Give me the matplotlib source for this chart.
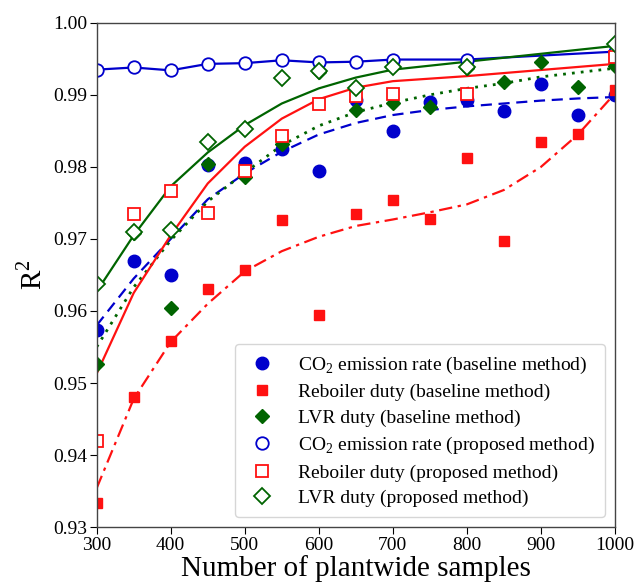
import matplotlib
matplotlib.use("Agg")
import matplotlib.pyplot as plt

plt.rcParams["font.family"] = ["Liberation Serif", "DejaVu Serif"]
plt.rcParams["mathtext.fontset"] = "custom"
plt.rcParams["mathtext.rm"] = "Liberation Serif"

BLUE, RED, GREEN = "#0000cc", "#ff1111", "#006400"

# baseline method: every 50 samples
x_base = [300, 350, 400, 450, 500, 550, 600, 650, 700, 750, 800, 850, 900, 950, 1000]
co2_base = [0.9573, 0.9669, 0.9650, 0.9803, 0.9806, 0.9825, 0.9794, 0.9893, 0.9850,
            0.9890, 0.9893, 0.9878, 0.9915, 0.9872, 0.9900]
reb_base = [0.9334, 0.9480, 0.9558, 0.9631, 0.9657, 0.9726, 0.9594, 0.9734, 0.9754,
            0.9728, 0.9813, 0.9697, 0.9835, 0.9845, 0.9907]
lvr_base = [0.9526, 0.9708, 0.9604, 0.9804, 0.9786, 0.9832, 0.9932, 0.9879, 0.9889,
            0.9883, 0.9937, 0.9918, 0.9946, 0.9911, 0.9940]

# baseline fitted trends
co2_base_fit = [0.9580, 0.9645, 0.9700, 0.9755, 0.9791, 0.9821, 0.9845, 0.9861, 0.9872,
                0.9879, 0.9884, 0.9888, 0.9892, 0.9895, 0.9897]
reb_base_fit = [0.9354, 0.9478, 0.9557, 0.9610, 0.9655, 0.9683, 0.9703, 0.9718, 0.9727,
                0.9737, 0.9748, 0.9768, 0.9800, 0.9845, 0.9902]
lvr_base_fit = [0.9550, 0.9633, 0.9698, 0.9752, 0.9792, 0.9830, 0.9857, 0.9876, 0.9889,
                0.9900, 0.9909, 0.9916, 0.9925, 0.9931, 0.9937]

# proposed method
x_prop = [300, 350, 400, 450, 500, 550, 600, 650, 700, 800, 1000]
co2_prop = [0.9935, 0.9938, 0.9934, 0.9943, 0.9944, 0.9948, 0.9945, 0.9946, 0.9949,
            0.9949, 0.9960]
reb_prop = [0.9419, 0.9735, 0.9767, 0.9736, 0.9794, 0.9843, 0.9887, 0.9898, 0.9901,
            0.9901, 0.9952]
lvr_prop = [0.9638, 0.9710, 0.9712, 0.9834, 0.9853, 0.9923, 0.9933, 0.9909, 0.9939,
            0.9939, 0.9970]

# proposed fitted trends
reb_prop_fit = [0.9513, 0.9625, 0.9705, 0.9777, 0.9828, 0.9867, 0.9894, 0.9910, 0.9919,
                0.9926, 0.9943]
lvr_prop_fit = [0.9627, 0.9705, 0.9773, 0.9820, 0.9858, 0.9888, 0.9909, 0.9924, 0.9935,
                0.9946, 0.9968]

labels = [r"CO$_2$ emission rate (baseline method)",
          "Reboiler duty (baseline method)",
          "LVR duty (baseline method)",
          r"CO$_2$ emission rate (proposed method)",
          "Reboiler duty (proposed method)",
          "LVR duty (proposed method)"]

fig = plt.figure(figsize=(6.36, 5.85), dpi=100)
ax = fig.add_axes([0.152, 0.099, 0.815, 0.862])

lw = 1.6
ax.plot(x_base, co2_base_fit, color=BLUE, ls=(0, (5, 3)), lw=lw)
ax.plot(x_base, reb_base_fit, color=RED, ls=(0, (6, 2.5, 1.5, 2.5)), lw=lw)
ax.plot(x_base, lvr_base_fit, color=GREEN, ls=(0, (1, 2.2)), lw=2.0)
ax.plot(x_prop, co2_prop, color=BLUE, ls="-", lw=lw)
ax.plot(x_prop, reb_prop_fit, color=RED, ls="-", lw=lw)
ax.plot(x_prop, lvr_prop_fit, color=GREEN, ls="-", lw=lw)

ax.plot(x_base, co2_base, "o", color=BLUE, ms=9, ls="none", label=labels[0])
ax.plot(x_base, reb_base, "s", color=RED, ms=7.5, ls="none", label=labels[1])
ax.plot(x_base, lvr_base, "D", color=GREEN, ms=7.5, ls="none", label=labels[2])
ax.plot(x_prop, co2_prop, "o", mfc="white", mec=BLUE, mew=1.3, ms=9, ls="none", label=labels[3])
ax.plot(x_prop, reb_prop, "s", mfc="white", mec=RED, mew=1.3, ms=9, ls="none", label=labels[4])
ax.plot(x_prop, lvr_prop, "D", mfc="white", mec=GREEN, mew=1.3, ms=8, ls="none", label=labels[5])

ax.set_xlim(300, 1000)
ax.set_ylim(0.93, 1.00)
ax.set_xticks(range(300, 1001, 100))
ax.set_yticks([0.93, 0.94, 0.95, 0.96, 0.97, 0.98, 0.99, 1.00])
ax.yaxis.set_major_formatter(matplotlib.ticker.FormatStrFormatter("%.2f"))
ax.tick_params(labelsize=14, length=5, pad=2)
for s in ax.spines.values():
    s.set_color("#444444")
    s.set_linewidth(1.0)

ax.set_xlabel("Number of plantwide samples", fontsize=21, labelpad=1)
ax.set_ylabel(r"R$^2$", fontsize=21, labelpad=4)

ax.legend(loc="lower right", fontsize=14, handlelength=1.75, borderaxespad=0.5,
          labelspacing=0.41, handletextpad=0.98, borderpad=0.52)

fig.savefig("out.png", dpi=100)
